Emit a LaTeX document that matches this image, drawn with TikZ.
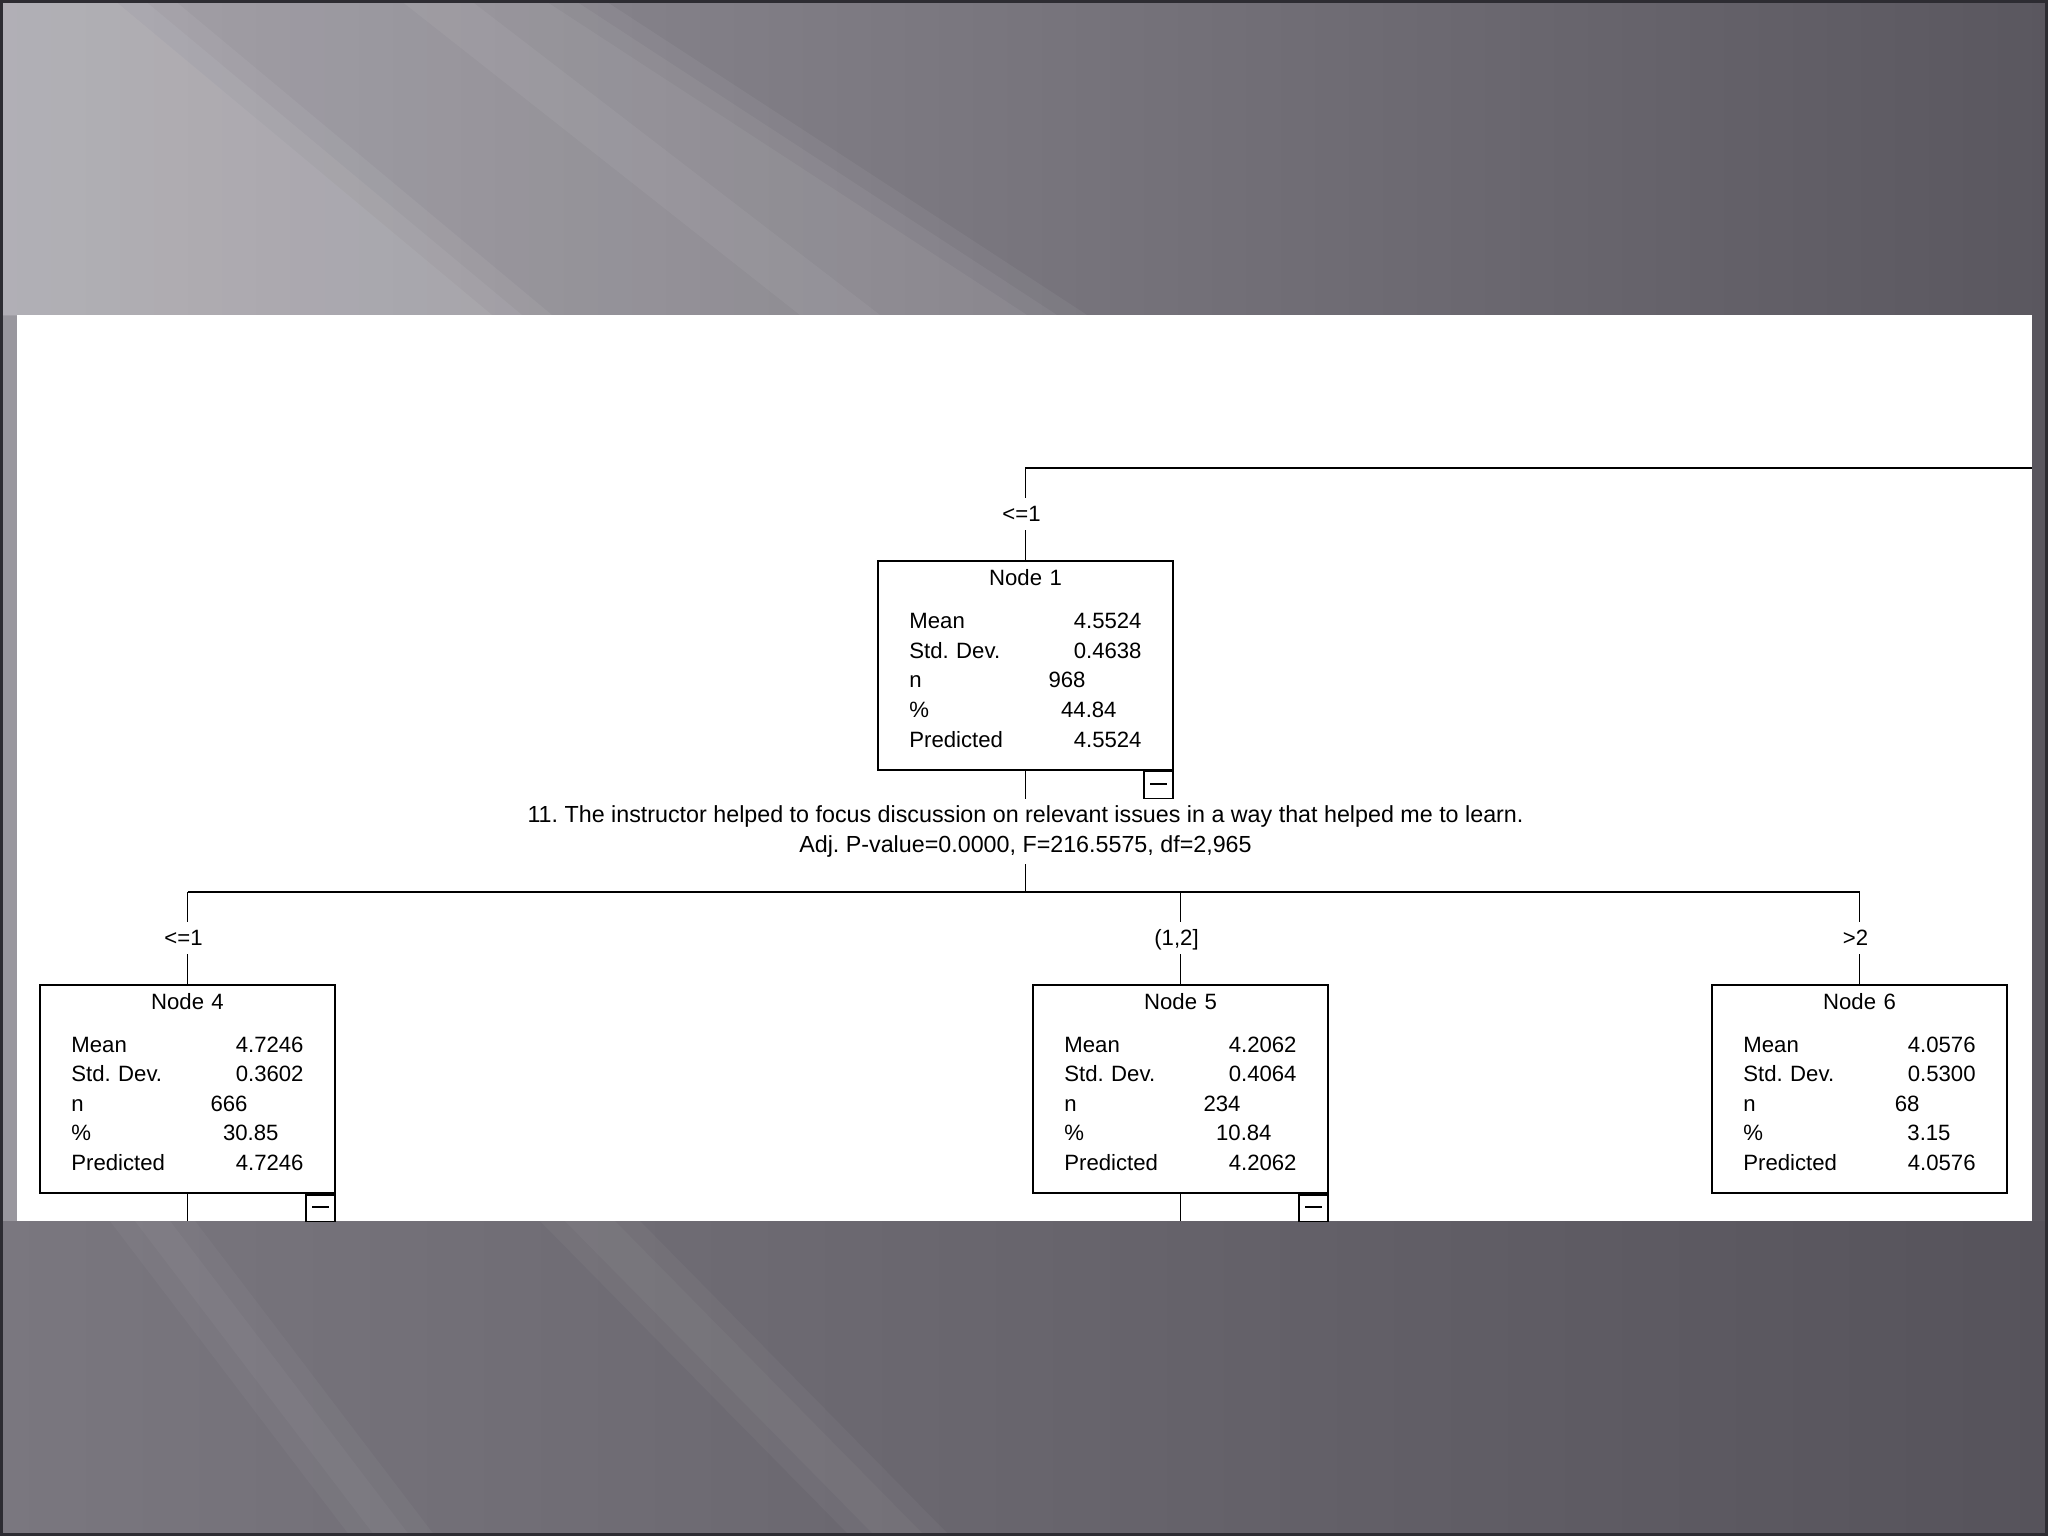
\documentclass[tikz,border=0pt]{standalone}
\usepackage{fontspec}
\setmainfont{Liberation Sans}
\usepackage{xcolor}

\definecolor{midleft}{RGB}{140,137,145}
\definecolor{midright}{RGB}{90,87,95}
\definecolor{topleft}{RGB}{150,147,155}
\definecolor{topright}{RGB}{90,87,95}
\definecolor{botleft}{RGB}{122,119,127}
\definecolor{botright}{RGB}{86,83,91}
\definecolor{slideedge}{RGB}{45,44,50}

\begin{document}
\begin{tikzpicture}[x=0.01cm, y=-0.01cm,
  treefont/.style={font=\fontsize{6.3}{8.4}\selectfont\frenchspacing},
  statbox/.style={draw, line width=0.55pt, fill=white, treefont, text width=2.32cm,
    minimum width=2.95cm, minimum height=2.08cm, align=left, inner sep=0pt},
  toggle/.style={draw, line width=0.55pt, fill=white, minimum width=0.29cm,
    minimum height=0.27cm, inner sep=0pt, anchor=north east},
  cutlbl/.style={fill=white, treefont, inner xsep=1pt, inner ysep=2pt,
    text height=4.6pt, text depth=0.6pt, xshift=-0.04cm},
  splitlbl/.style={fill=white, font=\fontsize{6.62}{8.4}\selectfont\frenchspacing,
    align=center, inner sep=2pt},
  link/.style={line width=0.55pt}]

  \useasboundingbox (0,0) rectangle (2048,1536);

  % ----- slide background -----
  \shade[left color=midleft, right color=midright] (0,0) rectangle (2048,1536);
  \shade[left color=topleft, right color=topright] (0,0) rectangle (2048,315);
  \shade[left color=botleft, right color=botright] (0,1221) rectangle (2048,1536);
  \foreach \d in {0,30,60}{
    \fill[white, opacity=0.05] (0,0) -- (544+\d,0) -- (1027+\d,315) -- (0,315) -- cycle;
    \fill[white, opacity=0.06] (0,0) -- (114+\d,0) -- (492+\d,315) -- (0,315) -- cycle;
  }
  \fill[white, opacity=0.05] (400,0) -- (470,0) -- (880,315) -- (800,315) -- cycle;
  \fill[white, opacity=0.12] (0,315) rectangle (17,1221);
  \foreach \d in {0,25}{
    \fill[white, opacity=0.035] (110+\d,1221) -- (170+\d,1221) -- (410+\d,1536) -- (350+\d,1536) -- cycle;
    \fill[white, opacity=0.035] (540+\d,1221) -- (615+\d,1221) -- (925+\d,1536) -- (850+\d,1536) -- cycle;
  }
  \draw[slideedge, line width=0.85pt] (1.5,1.5) rectangle (2046.5,1534.5);

  % ----- white panel -----
  \fill[white] (17,315) rectangle (2032,1221);
  \coordinate (ptop) at (2032,468);
  \coordinate (hbar) at (1025.5,892);
  \coordinate (pbot) at (0,1221);

  \begin{scope}
    \clip (17,315) rectangle (2032,1221);

    % ----- Node 1 -----
    \node[statbox] (n1) at (1025.5,665.5) {%
      \hfill Node 1\hfill\null\\[3.8pt]
      Mean\hfill 4.5524\\
      Std. Dev.\hfill 0.4638\\
      n\hfill 968\hspace*{0.56cm}\null\\
      \%\hfill 44.84\hspace*{0.25cm}\null\\
      Predicted\hfill 4.5524\rule[-4pt]{0pt}{4pt}};
    \node[toggle] (t1) at (n1.south east) {\rule[0.6pt]{0.17cm}{0.55pt}};

    % ----- Node 4 -----
    \node[statbox] (n4) at (187.5,1089) {%
      \hfill Node 4\hfill\null\\[3.8pt]
      Mean\hfill 4.7246\\
      Std. Dev.\hfill 0.3602\\
      n\hfill 666\hspace*{0.56cm}\null\\
      \%\hfill 30.85\hspace*{0.25cm}\null\\
      Predicted\hfill 4.7246\rule[-4pt]{0pt}{4pt}};
    \node[toggle] (t4) at (n4.south east) {\rule[0.6pt]{0.17cm}{0.55pt}};

    % ----- Node 5 -----
    \node[statbox] (n5) at (1180.5,1089) {%
      \hfill Node 5\hfill\null\\[3.8pt]
      Mean\hfill 4.2062\\
      Std. Dev.\hfill 0.4064\\
      n\hfill 234\hspace*{0.56cm}\null\\
      \%\hfill 10.84\hspace*{0.25cm}\null\\
      Predicted\hfill 4.2062\rule[-4pt]{0pt}{4pt}};
    \node[toggle] (t5) at (n5.south east) {\rule[0.6pt]{0.17cm}{0.55pt}};

    % ----- Node 6 -----
    \node[statbox] (n6) at (1859.5,1089) {%
      \hfill Node 6\hfill\null\\[3.8pt]
      Mean\hfill 4.0576\\
      Std. Dev.\hfill 0.5300\\
      n\hfill 68\hspace*{0.56cm}\null\\
      \%\hfill 3.15\hspace*{0.25cm}\null\\
      Predicted\hfill 4.0576\rule[-4pt]{0pt}{4pt}};

    % ----- branches -----
    \draw[link] (n1.north) -- node[cutlbl] {<=1} (n1.north |- ptop) -- (ptop);
    \draw[link] (n1.south) -- node[splitlbl] {11. The instructor helped to focus discussion on relevant issues in a way that helped me to learn.\\
      Adj. P-value=0.0000, F=216.5575, df=2,965} (hbar);
    \draw[link] (n4.north |- hbar) -- (n6.north |- hbar);
    \draw[link] (n4.north |- hbar) -- node[cutlbl] {<=1} (n4.north);
    \draw[link] (n5.north |- hbar) -- node[cutlbl] {(1,2]} (n5.north);
    \draw[link] (n6.north |- hbar) -- node[cutlbl] {>2} (n6.north);
    \draw[link] (n4.south) -- (n4.south |- pbot);
    \draw[link] (n5.south) -- (n5.south |- pbot);
  \end{scope}

\end{tikzpicture}
\end{document}
